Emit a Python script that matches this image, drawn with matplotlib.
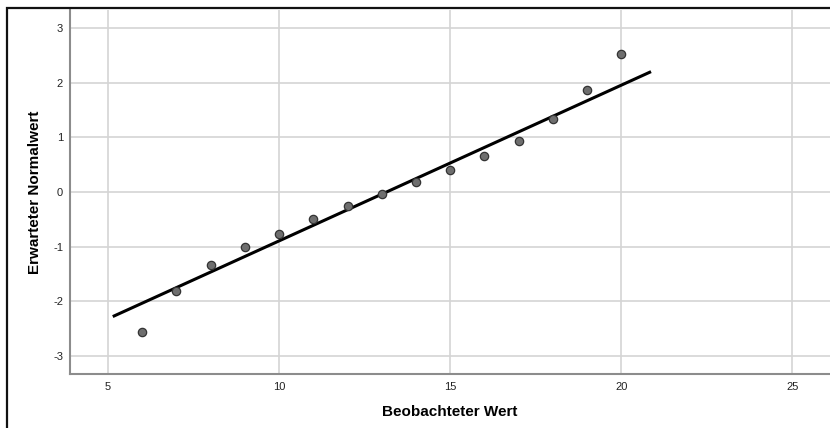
import matplotlib
matplotlib.use("Agg")
import matplotlib.pyplot as plt
from matplotlib.patches import Rectangle
import numpy as np

plt.rcParams['font.family'] = ['Liberation Sans', 'DejaVu Sans']
plt.rcParams['axes.unicode_minus'] = False

# Observed values and their expected normal scores
observed = [6, 7, 8, 9, 10, 11, 12, 13, 14, 15, 16, 17, 18, 19, 20]
expected = [-2.56, -1.82, -1.34, -1.01, -0.76, -0.50, -0.25, -0.03,
            0.18, 0.41, 0.65, 0.94, 1.34, 1.87, 2.52]

# Reference line: y = (x - mean) / sd
line_mean = 13.14
line_sd = 3.51
line_range = [5.14, 20.87]

x_ticks = [5, 10, 15, 20, 25]
y_ticks = [-3, -2, -1, 0, 1, 2, 3]

W, H = 830, 428
fig = plt.figure(figsize=(W / 100, H / 100), dpi=100)
ax = fig.add_axes([70 / W, 1 - 374 / H, (830 - 70) / W, (374 - 10) / H])

ax.set_xlim(3.89, 26.1)
ax.set_ylim(-3.33, 3.33)
ax.set_xticks(x_ticks)
ax.set_yticks(y_ticks)
ax.grid(True, color='#d4d4d4', linewidth=1.2)
ax.set_axisbelow(True)
ax.tick_params(length=0, labelsize=8, labelcolor='#222222')
ax.tick_params(axis='y', pad=5)
ax.tick_params(axis='x', pad=6)

for side in ['top', 'right']:
    ax.spines[side].set_visible(False)
for side in ['left', 'bottom']:
    ax.spines[side].set_color('#8c8c8c')
    ax.spines[side].set_linewidth(1.5)

lx = np.array(line_range)
ax.plot(lx, (lx - line_mean) / line_sd, color='black', linewidth=2.2,
        solid_capstyle='butt', zorder=3)
ax.plot(observed, expected, linestyle='none', marker='o', markersize=6,
        markerfacecolor='#6e6e6e', markeredgecolor='#333333',
        markeredgewidth=0.9, zorder=4)

ax.set_xlabel('Beobachteter Wert', fontsize=11, fontweight='bold', labelpad=9)
ax.set_ylabel('Erwarteter Normalwert', fontsize=11, fontweight='bold', labelpad=8)

# Outer frame around the chart
fig.patches.append(Rectangle((6.5 / W, -0.1), 1.2, 1 - 7.5 / H + 0.1,
                             transform=fig.transFigure, fill=False,
                             edgecolor='#111111', linewidth=1.6))

fig.savefig('out.png', dpi=100)
